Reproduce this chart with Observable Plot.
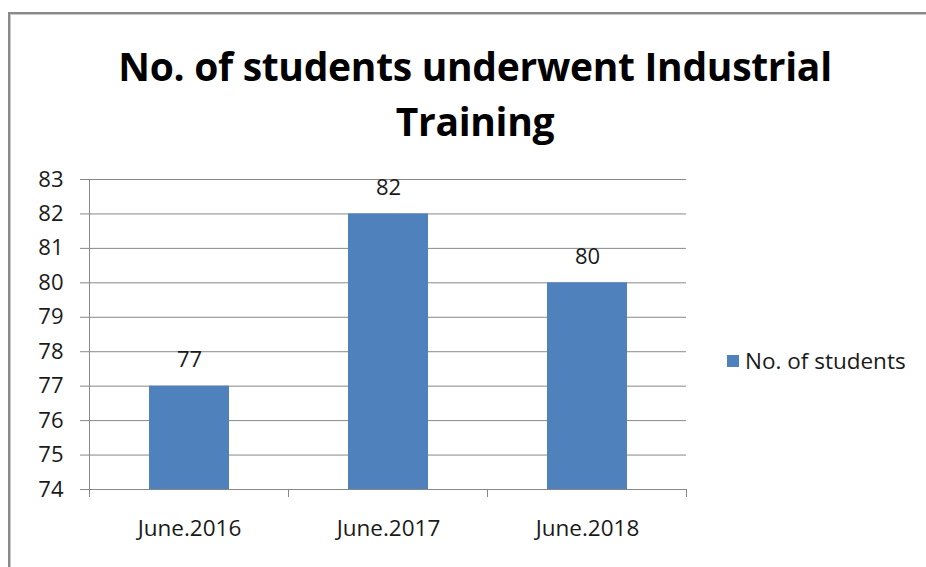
<!DOCTYPE html>
<html>
<head>
<meta charset="utf-8">
<script src="https://cdn.jsdelivr.net/npm/d3@7"></script>
<script src="https://cdn.jsdelivr.net/npm/@observablehq/plot@0.6"></script>
<style>
  html, body { margin: 0; padding: 0; background: #fff; }
  #wrap { position: relative; width: 926px; height: 567px; overflow: hidden; font-family: "Open Sans", sans-serif; }
  #frame { position: absolute; left: 8px; top: 12px; right: -10px; bottom: -10px; border-top: 2px solid #8a8a8a; border-left: 2px solid #8a8a8a; box-shadow: inset 1px 1px 0 #c8c8c8; }
  #title { position: absolute; left: 0; top: 38px; width: 950px; text-align: center; font-weight: bold; font-size: 39px; line-height: 55px; color: #000; letter-spacing: -0.3px; }
  #chart { position: absolute; left: 0; top: 0; }
  #legend { position: absolute; left: 727px; top: 345px; display: flex; align-items: center; font-size: 22.5px; color: #1a1a1a; }
  #legend .sw { width: 12px; height: 12px; margin-right: 6px; }
</style>
</head>
<body>
<div id="wrap">
  <div id="frame"></div>
  <div id="title"></div>
  <div id="chart"></div>
  <div id="legend"></div>
</div>
<script>
const titleLines = ["No. of students underwent Industrial", "Training"];
const categories = ["June.2016", "June.2017", "June.2018"];
const students = [77, 82, 80];
const yTicks = [74, 75, 76, 77, 78, 79, 80, 81, 82, 83];
const seriesName = "No. of students";
const barColor = "#4f81bd";

const data = categories.map((c, i) => ({ category: c, value: students[i] }));

document.getElementById("title").innerHTML = titleLines.join("<br>");

const lg = document.getElementById("legend");
lg.innerHTML = `<div class="sw" style="background:${barColor}"></div><span>${seriesName}</span>`;

// category boundary ticks drawn from the band scale
function bandTicks(len) {
  return (index, scales, values, dimensions) => {
    const x = scales.scales.x;
    const step = x.step;
    const y0 = dimensions.height - dimensions.marginBottom;
    const g = d3.create("svg:g").attr("stroke", "#888").attr("stroke-width", 1);
    const x0 = dimensions.marginLeft;
    for (let i = 0; i <= categories.length; i++) {
      const px = Math.round(x0 + i * step) + 0.5;
      g.append("line").attr("x1", px).attr("x2", px).attr("y1", y0).attr("y2", y0 + len);
    }
    return g.node();
  };
}

const plot = Plot.plot({
  width: 926,
  height: 567,
  marginLeft: 89,
  marginRight: 240,
  marginTop: 179,
  marginBottom: 78,
  style: { fontFamily: "Open Sans, sans-serif", fontSize: "22px", color: "#1a1a1a", background: "transparent" },
  x: { domain: categories, paddingInner: 0.6, paddingOuter: 0.3, label: null },
  y: { domain: [yTicks[0], yTicks[yTicks.length - 1]], label: null },
  marks: [
    Plot.ruleY(yTicks, { stroke: "#888", strokeWidth: 1 }),
    Plot.barY(data, { x: "category", y1: () => yTicks[0], y2: "value", fill: barColor }),
    Plot.text(data, { x: "category", y: "value", text: d => String(d.value), dy: -26, fontSize: 22, fill: "#1a1a1a" }),
    Plot.axisY({ ticks: yTicks, tickSize: 9, tickPadding: 17, stroke: "#888", fontSize: 22, fill: "#1a1a1a", label: null }),
    Plot.axisX({ tickSize: 0, tickPadding: 31, fontSize: 22.5, fill: "#1a1a1a", label: null }),
    bandTicks(8),
    (index, scales, values, dimensions) => {
      const g = d3.create("svg:g").attr("stroke", "#888");
      const px = dimensions.marginLeft + 0.5;
      g.append("line").attr("x1", px).attr("x2", px)
        .attr("y1", dimensions.marginTop).attr("y2", dimensions.height - dimensions.marginBottom);
      return g.node();
    }
  ]
});
document.getElementById("chart").appendChild(plot);
</script>
</body>
</html>
